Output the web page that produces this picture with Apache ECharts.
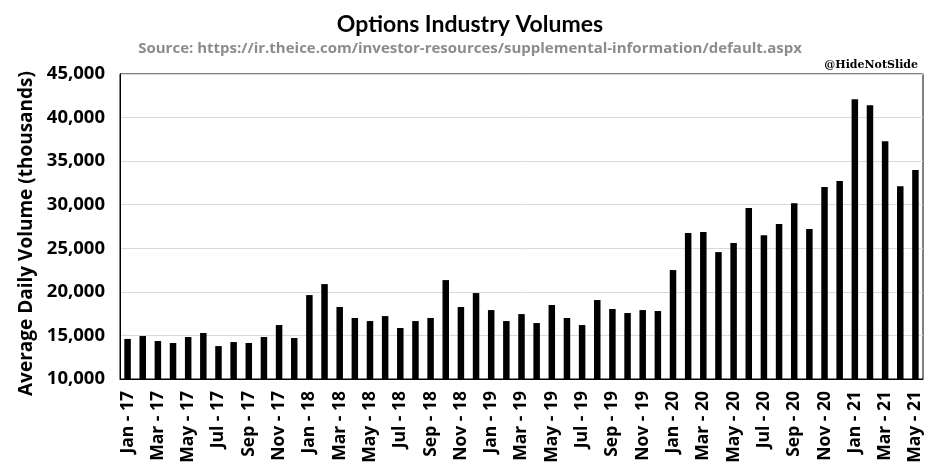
<!DOCTYPE html>
<html><head><meta charset="utf-8">
<script src="https://cdn.jsdelivr.net/npm/echarts@6/dist/echarts.min.js"></script>
<style>html,body{margin:0;padding:0;background:#fff}#c{width:940px;height:475px}</style>
</head><body><div id="c"></div>
<script>
const categories = [
 "Jan - 17","Feb - 17","Mar - 17","Apr - 17","May - 17","Jun - 17","Jul - 17","Aug - 17","Sep - 17","Oct - 17","Nov - 17","Dec - 17",
 "Jan - 18","Feb - 18","Mar - 18","Apr - 18","May - 18","Jun - 18","Jul - 18","Aug - 18","Sep - 18","Oct - 18","Nov - 18","Dec - 18",
 "Jan - 19","Feb - 19","Mar - 19","Apr - 19","May - 19","Jun - 19","Jul - 19","Aug - 19","Sep - 19","Oct - 19","Nov - 19","Dec - 19",
 "Jan - 20","Feb - 20","Mar - 20","Apr - 20","May - 20","Jun - 20","Jul - 20","Aug - 20","Sep - 20","Oct - 20","Nov - 20","Dec - 20",
 "Jan - 21","Feb - 21","Mar - 21","Apr - 21","May - 21"];
const volumes = [
 14600,14930,14360,14130,14820,15280,13780,14240,14130,14820,16190,14700,
 19630,20890,18260,17000,16650,17220,15850,16650,17000,21350,18260,19860,
 17910,16650,17450,16420,18490,17000,16190,19060,18030,17570,17910,17800,
 22500,26740,26860,24560,25600,29610,26510,27780,30180,27200,32020,32710,
 42110,41420,37290,32130,33970];
const yTicks = {min:10000, max:45000, step:5000};
const titleText = "Options Industry Volumes";
const subtitleText = "Source: https://ir.theice.com/investor-resources/supplemental-information/default.aspx";
const creditText = "@HideNotSlide";
const yName = "Average Daily Volume (thousands)";

const chart = echarts.init(document.getElementById('c'));
const F = "'Open Sans', 'Noto Sans', sans-serif";
chart.setOption({
  animation:false,
  title:[
    {text:titleText,left:'center',top:8,textStyle:{fontFamily:"Lato,'Open Sans',sans-serif",fontWeight:'bold',fontSize:23,color:'#000'}},
    {text:subtitleText,left:'center',top:36,textStyle:{fontFamily:"'Liberation Sans Narrow','Open Sans',sans-serif",fontWeight:'bold',fontSize:15,color:'#8c8c8c'}},
    {text:creditText,right:17,top:55,textStyle:{fontFamily:"'DejaVu Serif',serif",fontWeight:'bold',fontSize:11,color:'#000'}}
  ],
  grid:{left:120,right:17,top:74,bottom:96,show:true,borderColor:'#000',borderWidth:1},
  xAxis:{type:'category',data:categories,
    axisLine:{lineStyle:{color:'#000',width:1}},axisTick:{show:false},
    axisLabel:{interval:1,rotate:90,fontFamily:F,fontWeight:'bold',fontSize:17.5,color:'#000',margin:12}},
  yAxis:{type:'value',min:yTicks.min,max:yTicks.max,interval:yTicks.step,
    name:yName,nameLocation:'middle',nameGap:84,nameRotate:90,
    nameTextStyle:{fontFamily:F,fontWeight:'bold',fontSize:19,color:'#000',padding:[0,14,0,0]},
    axisLine:{show:true,lineStyle:{color:'#000'}},axisTick:{show:false},
    splitLine:{lineStyle:{color:'#d9d9d9',width:1}},
    axisLabel:{fontFamily:F,fontWeight:'bold',fontSize:18.5,color:'#000',margin:15,
      formatter:v=>v.toLocaleString('en-US')}},
  series:[{type:'bar',data:volumes,barWidth:6.5,itemStyle:{color:'#000'}}]
});
</script></body></html>
